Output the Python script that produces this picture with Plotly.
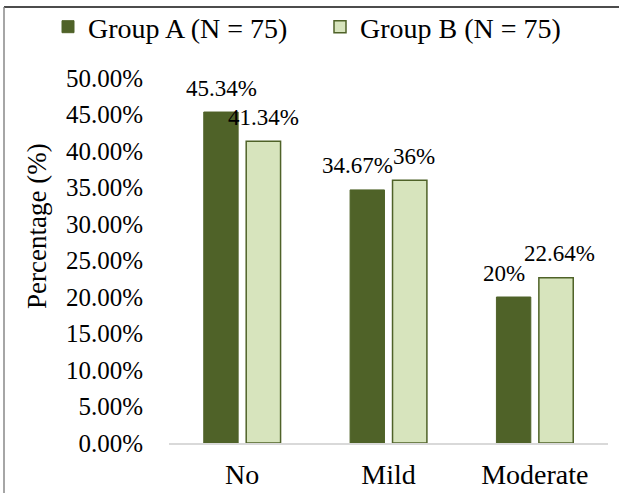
import plotly.graph_objects as go

categories = ["No", "Mild", "Moderate"]
group_a = [45.34, 34.67, 20]
group_b = [41.34, 36, 22.64]
series_names = ["Group A (N = 75)", "Group B (N = 75)"]
y_ticks = [0, 5, 10, 15, 20, 25, 30, 35, 40, 45, 50]

DARK = "#4f6228"
LIGHT = "#d7e4bd"
FONT = "Liberation Serif"

W, H = 619, 493
ML, MR, MT, MB = 169, 11, 78, 50
PW, PH = W - ML - MR, H - MT - MB


def px_x(p):
    return (p - ML) / PW


def px_y(p):
    return (H - MB - p) / PH


fig = go.Figure()
fig.add_trace(go.Bar(
    x=categories, y=[v / 100 for v in group_a], name=series_names[0],
    marker=dict(color=DARK, line=dict(color=DARK, width=1)),
))
fig.add_trace(go.Bar(
    x=categories, y=[v / 100 for v in group_b], name=series_names[1],
    marker=dict(color=LIGHT, line=dict(color=DARK, width=1.5)),
))

annotations = []
for c, a, b in zip(categories, group_a, group_b):
    nudge = -10 if abs(a - b) < 3 else 0
    annotations.append(dict(x=c, y=a / 100, xref="x", yref="y", text=f"{a:g}%",
                            showarrow=False, xshift=-21 + nudge, yshift=24,
                            xanchor="center", yanchor="middle",
                            font=dict(family=FONT, size=23, color="black")))
    annotations.append(dict(x=c, y=b / 100, xref="x", yref="y", text=f"{b:g}%",
                            showarrow=False, xshift=21 + (4 if nudge else 0), yshift=24,
                            xanchor="center", yanchor="middle",
                            font=dict(family=FONT, size=23, color="black")))

annotations.append(dict(x=px_x(37), y=px_y(226), xref="paper", yref="paper",
                        text="Percentage (%)", textangle=-90, showarrow=False,
                        xanchor="center", yanchor="middle",
                        font=dict(family=FONT, size=27, color="black")))

shapes = [
    dict(type="line", xref="paper", yref="paper", x0=px_x(4), x1=px_x(W + 5),
         y0=px_y(7), y1=px_y(7), line=dict(color="#111111", width=1.5)),
    dict(type="line", xref="paper", yref="paper", x0=px_x(4), x1=px_x(4),
         y0=px_y(7), y1=px_y(H + 5), line=dict(color="#888888", width=1.5)),
]

fig.update_layout(
    width=W, height=H,
    margin=dict(l=ML, r=MR, t=MT, b=MB, pad=0, autoexpand=False),
    paper_bgcolor="white", plot_bgcolor="white",
    font=dict(family=FONT, color="black"),
    barmode="group", bargap=0.42, bargroupgap=0.19,
    showlegend=True,
    legend=dict(orientation="h", x=px_x(48), y=px_y(27), xanchor="left", yanchor="middle",
                font=dict(family=FONT, size=28), entrywidth=227, entrywidthmode="pixels",
                itemwidth=30, traceorder="normal", bgcolor="rgba(0,0,0,0)"),
    xaxis=dict(showline=True, linecolor="#d9d9d9", linewidth=1.5, showgrid=False,
               ticks="", tickfont=dict(family=FONT, size=28), fixedrange=True,
               ticklabelstandoff=6),
    yaxis=dict(range=[0, 0.5], tickvals=[t / 100 for t in y_ticks], tickformat=".2%",
               showgrid=False, zeroline=False, showline=False, ticks="",
               tickfont=dict(family=FONT, size=25), ticklabelstandoff=25, fixedrange=True),
    annotations=annotations,
    shapes=shapes,
)

fig.write_html("out.html", config={"displayModeBar": False},
               post_script="document.body.style.margin='0';document.body.style.overflow='hidden';")
